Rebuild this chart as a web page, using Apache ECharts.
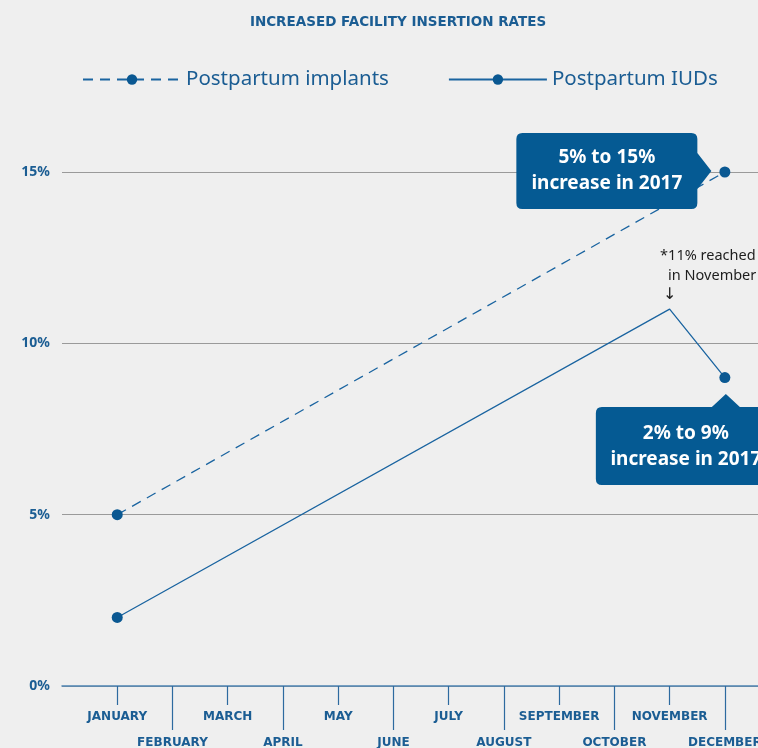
<!DOCTYPE html>
<html>
<head>
<meta charset="UTF-8">
<title>Increased facility insertion rates</title>
<script type="text/javascript" src="https://cdn.jsdelivr.net/npm/echarts@6/dist/echarts.min.js"></script>
<style type="text/css">
html, body {
	margin: 0;
	padding: 0;
	background-color: #efefef;
}
#chart {
	width: 758px;
	height: 748px;
}
</style>
</head>
<body>
	<div id="chart"></div>
</body>
<script type="text/javascript">
	var months = ['JANUARY', 'FEBRUARY', 'MARCH', 'APRIL', 'MAY', 'JUNE', 'JULY',
		'AUGUST', 'SEPTEMBER', 'OCTOBER', 'NOVEMBER', 'DECEMBER'];
	var oddTicks = [1, 3, 5, 7, 9, 11];   // month numbers on the upper label row
	var evenTicks = [2, 4, 6, 8, 10, 12]; // month numbers on the lower label row
	var implantMonths = ['JANUARY', 'DECEMBER'];
	var implantValues = [5, 15];
	var iudMonths = ['JANUARY', 'NOVEMBER', 'DECEMBER'];
	var iudValues = [2, 11, 9];
	var iudDots = [true, false, true];
	var yTicks = [0, 5, 10, 15];

	var blue = '#0a5892';
	var lineBlue = '#1a64a0';
	var textBlue = '#1b5d93';
	var font = '"Noto Sans", "Open Sans", sans-serif';
	var capsFont = '"DejaVu Sans", "Noto Sans", sans-serif';

	function monthNo(name) {
		return months.indexOf(name) + 1;
	}
	function monthName(v) {
		return months[Math.round(v) - 1] || '';
	}

	var implantData = [];
	for (var i = 0; i < implantMonths.length; i++) {
		implantData.push([monthNo(implantMonths[i]), implantValues[i]]);
	}
	var iudData = [];
	for (var j = 0; j < iudMonths.length; j++) {
		var item = { value : [monthNo(iudMonths[j]), iudValues[j]] };
		if (!iudDots[j]) item.symbol = 'none';
		iudData.push(item);
	}

	// callout shapes: box + pointer
	var calloutRight = 'path://M6,0 L175,0 Q181,0 181,6 L181,20 L195,38 L181,56 L181,70 Q181,76 175,76 L6,76 Q0,76 0,70 L0,6 Q0,0 6,0 Z';
	var calloutTop = 'path://M6,13 L116,13 L130,0 L144,13 L174,13 Q180,13 180,19 L180,85 Q180,91 174,91 L6,91 Q0,91 0,85 L0,19 Q0,13 6,13 Z';

	var calloutLabel = {
		show : true,
		color : '#ffffff',
		fontFamily : font,
		fontWeight : 'bold',
		fontSize : 19,
		lineHeight : 26,
		align : 'center',
		verticalAlign : 'middle'
	};

	function monthAxis(ticks, tickLen, margin, showLine) {
		return {
			type : 'value',
			min : 0,
			max : 12.6,
			position : 'bottom',
			axisLine : {
				show : showLine,
				lineStyle : { color : '#4d84b3', width : 1.5 }
			},
			axisTick : {
				show : true,
				length : tickLen,
				customValues : ticks,
				lineStyle : { color : '#2d6a9f', width : 1.2 }
			},
			axisLabel : {
				show : true,
				customValues : ticks,
				margin : margin,
				formatter : monthName,
				color : textBlue,
				fontFamily : capsFont,
				fontWeight : 'bold',
				fontSize : 12
			},
			splitLine : { show : false }
		};
	}

	var myChart = echarts.init(document.getElementById('chart'));
	var option = {
		backgroundColor : '#efefef',
		animation : false,
		title : {
			text : 'INCREASED FACILITY INSERTION RATES',
			left : 398,
			textAlign : 'center',
			top : 15,
			padding : 0,
			textStyle : {
				color : textBlue,
				fontFamily : capsFont,
				fontWeight : 'bold',
				fontSize : 13.5
			}
		},
		legend : {
			left : 82,
			top : 69,
			padding : 0,
			itemWidth : 98,
			itemHeight : 13,
			itemGap : 59,
			textStyle : {
				color : textBlue,
				fontFamily : font,
				fontSize : 20.5
			},
			data : ['Postpartum implants', 'Postpartum IUDs']
		},
		grid : {
			left : 62,
			top : 172,
			right : 0,
			height : 514,
			outerBoundsMode : 'none',
			containLabel : false
		},
		xAxis : [ monthAxis(oddTicks, 19, 25, true), monthAxis(evenTicks, 44, 51, false) ],
		yAxis : {
			type : 'value',
			min : yTicks[0],
			max : yTicks[yTicks.length - 1],
			interval : 5,
			axisLine : { show : false },
			axisTick : { show : false },
			axisLabel : {
				margin : 12,
				color : textBlue,
				fontFamily : font,
				fontWeight : 'bold',
				fontSize : 14,
				formatter : '{value}%'
			},
			splitLine : {
				show : true,
				lineStyle : { color : '#9a9a9a', width : 1 }
			}
		},
		series : [ {
			name : 'Postpartum implants',
			type : 'line',
			xAxisIndex : 0,
			data : implantData,
			symbol : 'circle',
			symbolSize : 11,
			itemStyle : { color : blue },
			lineStyle : { color : lineBlue, width : 1.3, type : [10, 7] },
			z : 3,
			markPoint : {
				symbol : calloutRight,
				symbolSize : [195, 76],
				symbolKeepAspect : false,
				symbolOffset : [-111, -1],
				itemStyle : { color : '#055a93' },
				label : echarts.util.extend({
					formatter : '5% to 15%\nincrease in 2017',
					offset : [-7, 0]
				}, calloutLabel),
				data : [ { coord : [monthNo('DECEMBER'), 15] } ]
			}
		}, {
			name : 'Postpartum IUDs',
			type : 'line',
			xAxisIndex : 0,
			data : iudData,
			symbol : 'circle',
			symbolSize : 11,
			itemStyle : { color : blue },
			lineStyle : { color : lineBlue, width : 1.3 },
			z : 3,
			markPoint : {
				data : [ {
					coord : [monthNo('DECEMBER'), 9],
					symbol : calloutTop,
					symbolSize : [180, 91],
					symbolKeepAspect : false,
					symbolOffset : [-39, 62],
					itemStyle : { color : '#055a93' },
					label : echarts.util.extend({
						formatter : '2% to 9%\nincrease in 2017',
						offset : [0, 7]
					}, calloutLabel)
				}, {
					coord : [monthNo('NOVEMBER'), 11],
					symbol : 'circle',
					symbolSize : 1,
					itemStyle : { color : 'rgba(0,0,0,0)' },
					label : {
						show : true,
						position : [-9, -62],
						align : 'left',
						verticalAlign : 'top',
						formatter : '{a|*11% reached}\n{b|in November}\n{c|↓}',
						rich : {
							a : { fontFamily : font, fontSize : 14.5, lineHeight : 19.5, color : '#1e1e1e' },
							b : { fontFamily : font, fontSize : 14.5, lineHeight : 19.5, color : '#1e1e1e', padding : [0, 0, 0, 8] },
							c : { fontFamily : capsFont, fontSize : 16, lineHeight : 19.5, color : '#1e1e1e', padding : [0, 0, 0, 3] }
						}
					}
				} ]
			}
		} ]
	};
	myChart.setOption(option);
</script>
</html>
